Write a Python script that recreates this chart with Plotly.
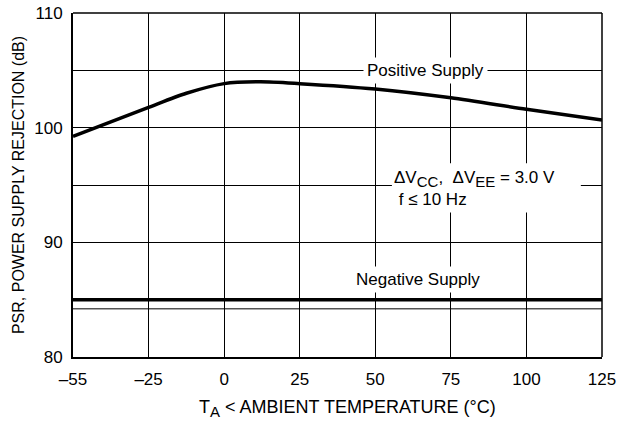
import numpy as np
import plotly.graph_objects as go

# ---- data ----
tick_temps = [-55, -25, 0, 25, 50, 75, 100, 125]
tick_labels = ["\u201355", "\u201325", "0", "25", "50", "75", "100", "125"]

pos_temp = [-55, -40, -25, -12.5, 0, 12, 25, 50, 75, 100, 125]
pos_psr = [99.25, 100.5, 101.77, 103.0, 103.84, 104.0, 103.84, 103.37, 102.6, 101.6, 100.67]

neg_temp = [-55, 125]
neg_psr = [85.0, 85.0]

ref_temp = [-55, 125]
ref_psr = [84.2, 84.2]

y_ticks = [80, 90, 100, 110]
y_labels = ["80", "90", "100", "110"]

# piecewise axis scale: tick marks equally spaced
tick_pos = list(range(len(tick_temps)))
def xs(t):
    return np.interp(t, tick_temps, tick_pos)

FONT = "Liberation Sans, Arial, sans-serif"
fig = go.Figure()

fig.add_trace(go.Scatter(x=xs(ref_temp), y=ref_psr, mode="lines",
                         line=dict(color="black", width=1), showlegend=False))
fig.add_trace(go.Scatter(x=xs(neg_temp), y=neg_psr, mode="lines",
                         line=dict(color="black", width=3.5), showlegend=False))
fig.add_trace(go.Scatter(x=xs(pos_temp), y=pos_psr, mode="lines",
                         line=dict(color="black", width=3.5, shape="spline", smoothing=0.8),
                         showlegend=False))

fig.update_layout(
    width=630, height=423,
    margin=dict(l=73, r=28, t=13, b=66),
    paper_bgcolor="white", plot_bgcolor="white",
    font=dict(family=FONT, size=17, color="black"),
    xaxis=dict(range=[0, 7], tickvals=tick_pos, ticktext=tick_labels,
               showgrid=True, gridcolor="black", gridwidth=1,
               showline=True, linecolor="black", linewidth=2,
               ticks="", zeroline=False, ticklabelstandoff=6, automargin=False,
               ticklabeloverflow="allow"),
    yaxis=dict(range=[80, 110], tickvals=y_ticks, ticktext=y_labels,
               showgrid=True, gridcolor="black", gridwidth=1,
               minor=dict(dtick=5, tick0=80, showgrid=True, gridcolor="black", gridwidth=1, ticks=""),
               showline=True, linecolor="black", linewidth=2,
               ticks="", zeroline=False, ticklabelstandoff=5, automargin=False,
               ticklabeloverflow="allow",
               title=dict(text="PSR, POWER SUPPLY REJECTION (dB)",
                          font=dict(size=16), standoff=6)),
)

SUB = "<sub><span style='font-size:15px'>{}</span></sub>"

# x axis title
fig.add_annotation(x=0.518, y=-0.151, xref="paper", yref="paper", yanchor="middle",
                   text="T" + SUB.format("A") + " < AMBIENT TEMPERATURE (\u00b0C)",
                   showarrow=False, font=dict(size=18))

# top and right frame
fig.add_shape(type="line", xref="paper", yref="paper", x0=0, x1=1, y0=1, y1=1,
              line=dict(color="black", width=1.5), layer="above")
fig.add_shape(type="line", xref="paper", yref="paper", x0=1, x1=1, y0=0, y1=1,
              line=dict(color="black", width=1.5), layer="above")

# white box behind conditions text
fig.add_shape(type="rect", xref="x", yref="y", x0=4.22, x1=6.72, y0=92.6, y1=96.9,
              fillcolor="white", line=dict(width=0), layer="between")

fig.add_annotation(x=4.66, y=105, xref="x", yref="y", text="Positive Supply",
                   showarrow=False, bgcolor="white", borderpad=3, font=dict(size=17))
fig.add_annotation(x=4.57, y=86.8, xref="x", yref="y", text="Negative Supply",
                   showarrow=False, bgcolor="white", borderpad=3, font=dict(size=17))
fig.add_annotation(x=4.22, y=94.7, xref="x", yref="y", xanchor="left",
                   text="\u0394V" + SUB.format("CC") + ",  \u0394V" + SUB.format("EE")
                        + " = 3.0 V<br> f \u2264 10 Hz",
                   align="left", showarrow=False, font=dict(size=17))

fig.write_html("out.html", config={"displayModeBar": False},
               post_script="document.body.style.margin='0px';")
